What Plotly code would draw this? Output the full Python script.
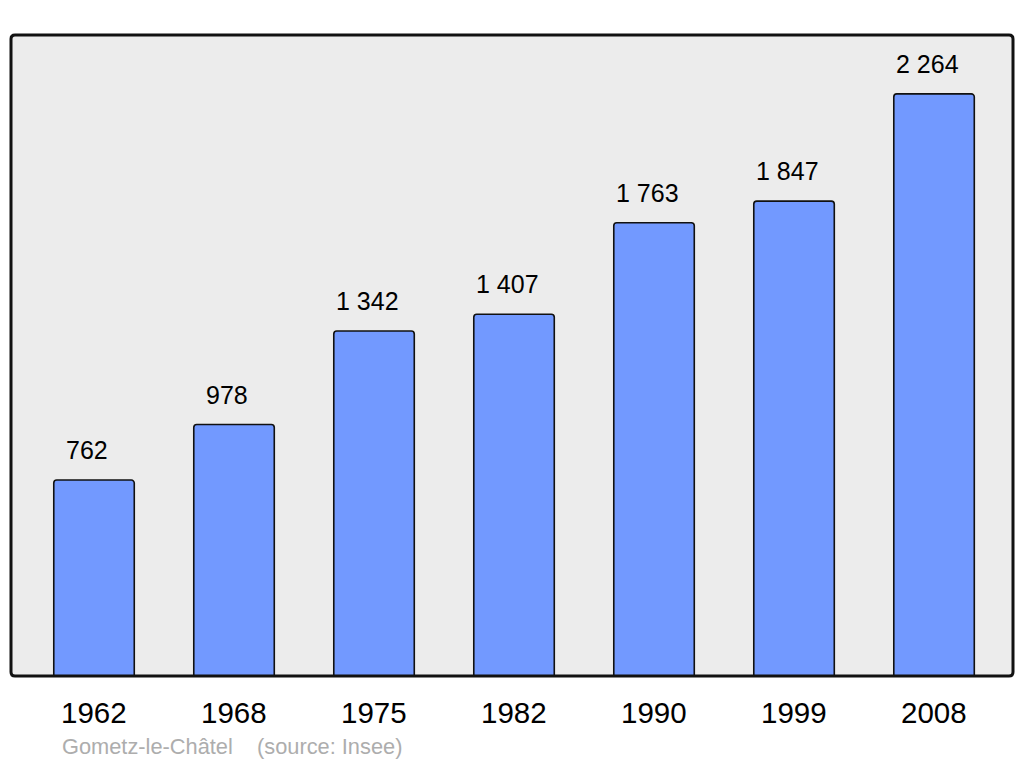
import plotly.graph_objects as go

years = ["1962", "1968", "1975", "1982", "1990", "1999", "2008"]
population = [762, 978, 1342, 1407, 1763, 1847, 2264]
value_labels = ["762", "978", "1 342", "1 407", "1 763", "1 847", "2 264"]
source_text = "Gometz-le-Châtel    (source: Insee)"

FONT = "Liberation Sans, Arial, sans-serif"

fig = go.Figure()
fig.add_trace(go.Bar(
    x=years, y=population, width=0.575,
    marker=dict(color="#7299ff", line=dict(color="#111111", width=1.6), cornerradius=3),
    hoverinfo="skip",
))

annotations = []
for i, (yr, v, lab) in enumerate(zip(years, population, value_labels)):
    annotations.append(dict(x=i, y=v, text=lab, showarrow=False, yanchor="middle",
                            yshift=30, xshift=-7, font=dict(family=FONT, size=25, color="#000000")))
    annotations.append(dict(x=i, y=0, text=yr, showarrow=False, yanchor="middle",
                            yshift=-36, font=dict(family=FONT, size=29.5, color="#000000")))
annotations.append(dict(x=(60 - 11) / 1002, y=-70 / 641, xref="paper", yref="paper",
                        xanchor="left", yanchor="middle", text=source_text.replace(" ", "&nbsp;"),
                        showarrow=False, font=dict(family=FONT, size=21.8, color="#adadad")))

rx, ry = 4 / 1002, 4 / 641
path = (f"M {rx},0 L {1-rx},0 Q 1,0 1,{ry} L 1,{1-ry} Q 1,1 {1-rx},1 "
        f"L {rx},1 Q 0,1 0,{1-ry} L 0,{ry} Q 0,0 {rx},0 Z")

fig.update_layout(
    width=1024, height=765,
    margin=dict(l=11, r=11, t=35, b=89),
    paper_bgcolor="#ffffff", plot_bgcolor="rgba(0,0,0,0)",
    showlegend=False,
    xaxis=dict(type="category", range=[-0.593, 6.564], showticklabels=False,
               showgrid=False, zeroline=False, fixedrange=True),
    yaxis=dict(range=[0, 2493], showticklabels=False, showgrid=False,
               zeroline=False, fixedrange=True),
    shapes=[
        dict(type="path", path=path, xref="paper", yref="paper", layer="below",
             fillcolor="#ececec", line=dict(width=0)),
        dict(type="path", path=path, xref="paper", yref="paper", layer="above",
             fillcolor="rgba(0,0,0,0)", line=dict(color="#111111", width=3)),
    ],
    annotations=annotations,
)

fig.write_html("out.html", config={"displayModeBar": False},
               post_script="document.body.style.margin='0';document.body.style.overflow='hidden';")
